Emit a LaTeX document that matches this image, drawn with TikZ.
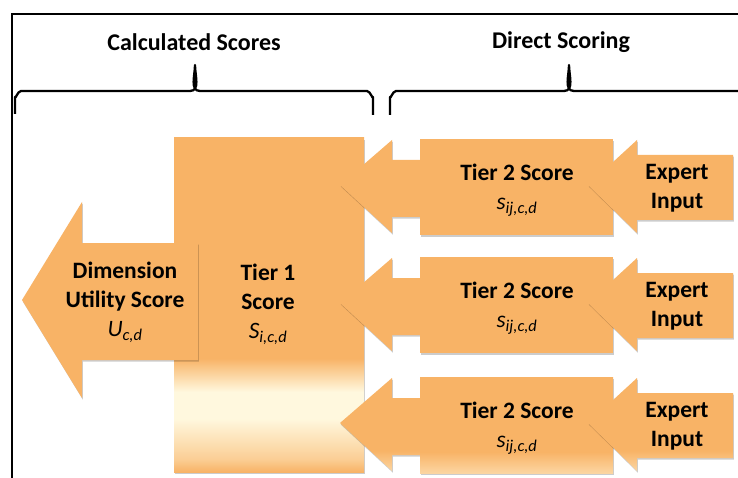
\documentclass[tikz,border=0pt]{standalone}
\usepackage{fontspec}
\setmainfont{Carlito}
\definecolor{orng}{RGB}{248,179,102}
\definecolor{lite}{RGB}{255,248,222}
\colorlet{midA}{orng!60!lite}
\colorlet{midB}{orng!50!lite}
\pgfdeclareverticalshading{tieronesh}{100bp}{color(0bp)=(orng); color(25bp)=(orng); color(27bp)=(midA); color(33bp)=(lite); color(37bp)=(lite); color(42bp)=(orng); color(100bp)=(orng)}
\pgfdeclareverticalshading{rowthreesh}{100bp}{color(0bp)=(midB); color(25bp)=(midB); color(36bp)=(orng); color(100bp)=(orng)}
\tikzset{
  block/.style={fill=orng, preaction={fill=black, fill opacity=.2, transform canvas={shift={(0.8pt,-1.6pt)}}}},
  lastrow/.style={shading=rowthreesh, preaction={fill=black, fill opacity=.2, transform canvas={shift={(0.8pt,-1.6pt)}}}},
  tierone/.style={shading=tieronesh, preaction={fill=black, fill opacity=.2, transform canvas={shift={(0.8pt,-1.6pt)}}}},
  lbl/.style={align=center, font=\bfseries\fontsize{23.5}{29}\selectfont, inner sep=0pt},
  head/.style={font=\bfseries\fontsize{24}{28}\selectfont, inner sep=0pt},
  brace/.style={line width=2.3pt, line join=round},
  frame/.style={line width=2pt}
}
\newcommand{\vsub}[2]{{\normalfont\itshape #1\textsubscript{#2}}}
\begin{document}
\begin{tikzpicture}[x=1pt,y=-1pt]
\useasboundingbox (0,0) rectangle (738,478);
\fill[white] (0,0) rectangle (738,478);
% frame
\draw[frame] (12,478) -- (12,14) -- (738,14);
% headings
\node[head] (hcalc) at (194,42) {Calculated Scores};
\node[head] (hdir) at (561,42) {Direct Scoring};
% braces
\draw[brace] (15,114) -- (15,97) to[out=-90,in=180] (21,91) -- (190,91)
  to[out=0,in=-90] (195,65) to[out=-90,in=180] (200,91) -- (367,91)
  to[out=0,in=-90] (373,97) -- (373,115);
\draw[brace] (390,115) -- (390,97) to[out=-90,in=180] (396,91) -- (564,91)
  to[out=0,in=-90] (569,65) to[out=-90,in=180] (574,91) -- (740,91);
% tier 1 block
\path[tierone] (174,138) rectangle (364,472);
\node[lbl] (tone) at (268,304) {Tier 1\\Score\\\vsub{S}{i,c,d}};
% dimension arrow
\path[block] (22,300) -- (82,202) -- (82,243) -- (198,243) -- (198,360) -- (82,360) -- (82,398) -- cycle;
\node[lbl] (dim) at (125,302) {Dimension\\Utility Score\\\vsub{U}{c,d}};
% rows
\foreach \T/\st [count=\i] in {139/block,257/block,377/lastrow}{
  \path[\st] (340,\T+46) -- (392,\T+1) -- (392,\T+21) -- (422,\T+21) -- (422,\T+78) -- (392,\T+78) -- (392,\T+94) -- cycle;
  \path[\st] (420,\T) rectangle (613,\T+96);
  \path[\st] (588,\T+46) -- (637,\T+1) -- (637,\T+16) -- (733,\T+16) -- (733,\T+81) -- (637,\T+81) -- (637,\T+94) -- cycle;
  \node[lbl] (ttwo\i) at (517,\T+51) {Tier 2 Score\\\vsub{s}{ij,c,d}};
  \node[lbl] (exp\i) at (677,\T+49) {Expert\\Input};
}
\end{tikzpicture}
\end{document}
